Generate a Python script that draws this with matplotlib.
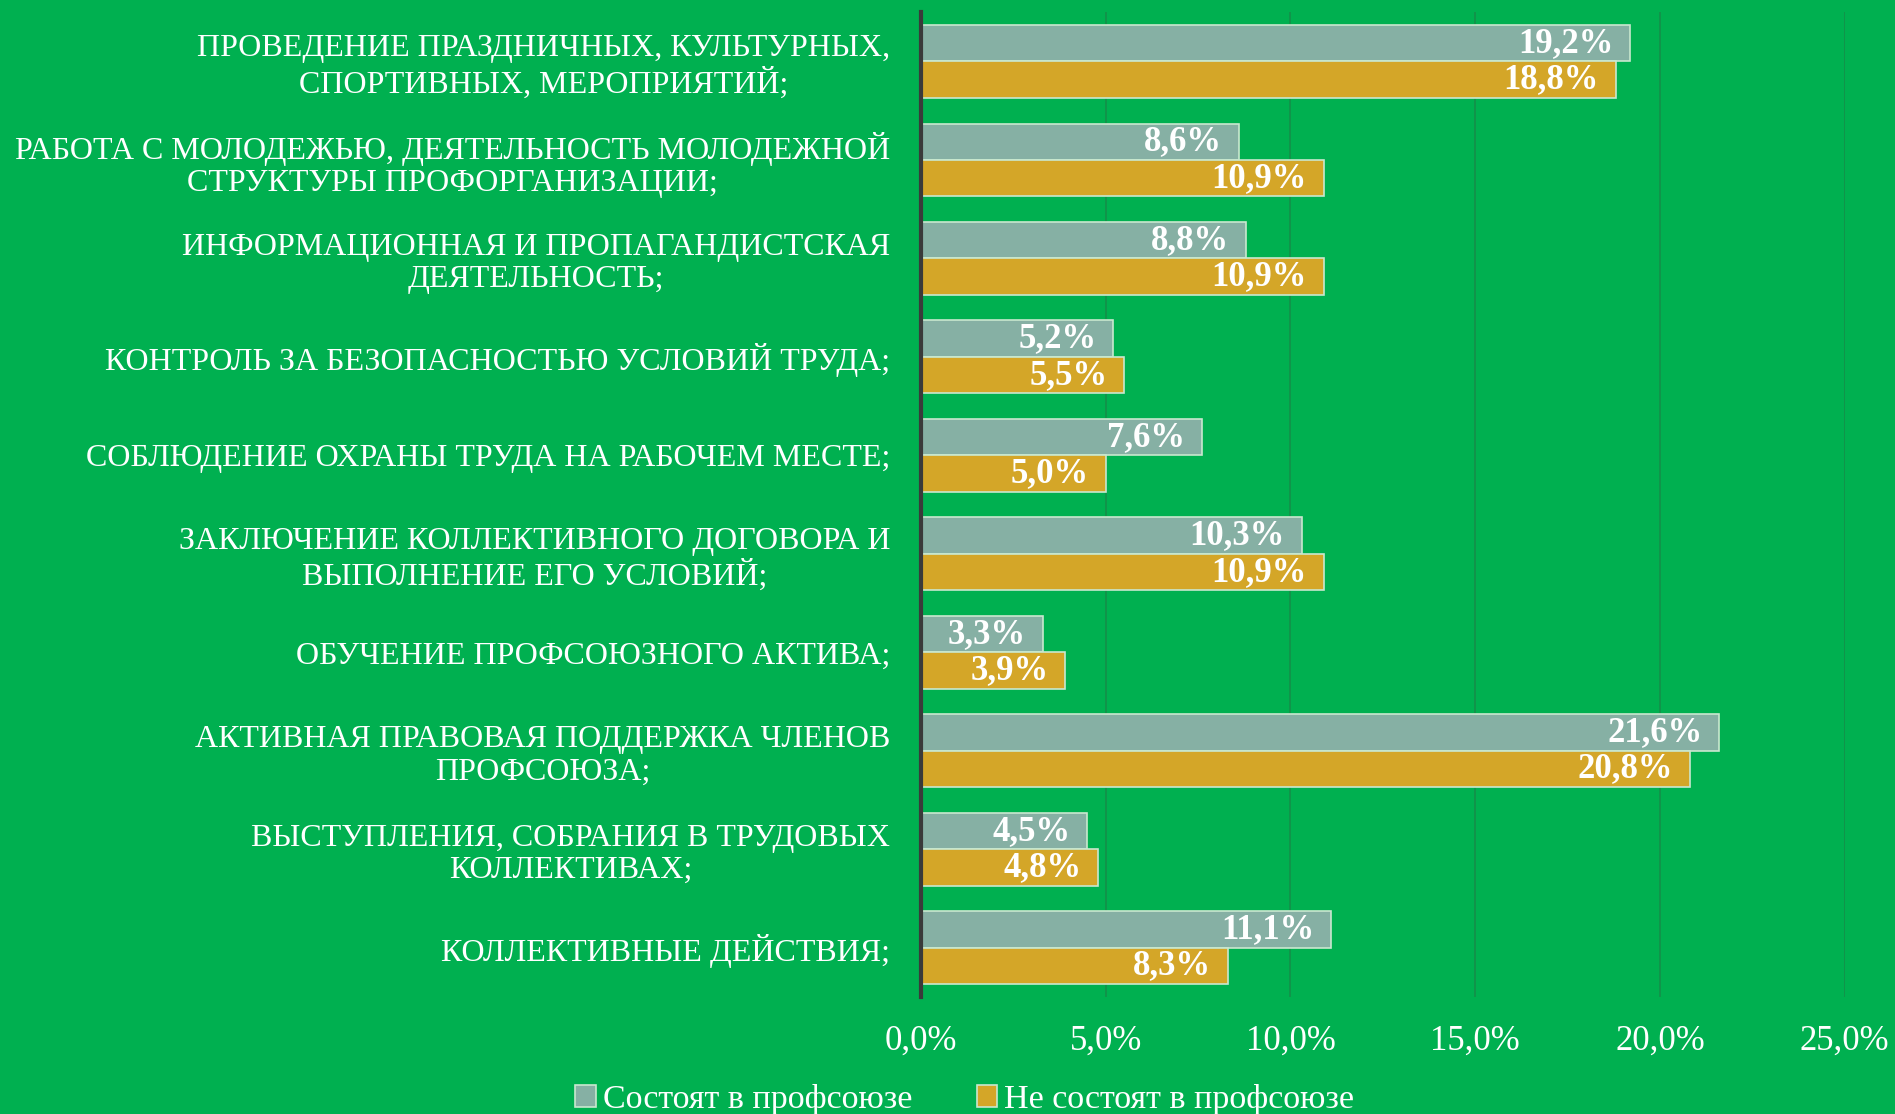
import matplotlib
matplotlib.use('Agg')
import matplotlib.pyplot as plt
import matplotlib.patches as mpatches
import numpy as np

# Colors
BG = '#00B050'
MEMBER = '#86B0A4'
NONMEMBER = '#D4A628'
EDGE = '#C9E8CF'
GRID = '#12914A'

categories = [
    'ПРОВЕДЕНИЕ ПРАЗДНИЧНЫХ, КУЛЬТУРНЫХ,\nСПОРТИВНЫХ, МЕРОПРИЯТИЙ;',
    'РАБОТА С МОЛОДЕЖЬЮ, ДЕЯТЕЛЬНОСТЬ МОЛОДЕЖНОЙ\nСТРУКТУРЫ ПРОФОРГАНИЗАЦИИ;',
    'ИНФОРМАЦИОННАЯ И ПРОПАГАНДИСТСКАЯ\nДЕЯТЕЛЬНОСТЬ;',
    'КОНТРОЛЬ ЗА БЕЗОПАСНОСТЬЮ УСЛОВИЙ ТРУДА;',
    'СОБЛЮДЕНИЕ ОХРАНЫ ТРУДА НА РАБОЧЕМ МЕСТЕ;',
    'ЗАКЛЮЧЕНИЕ КОЛЛЕКТИВНОГО ДОГОВОРА И\nВЫПОЛНЕНИЕ ЕГО УСЛОВИЙ;',
    'ОБУЧЕНИЕ ПРОФСОЮЗНОГО АКТИВА;',
    'АКТИВНАЯ ПРАВОВАЯ ПОДДЕРЖКА ЧЛЕНОВ\nПРОФСОЮЗА;',
    'ВЫСТУПЛЕНИЯ, СОБРАНИЯ В ТРУДОВЫХ\nКОЛЛЕКТИВАХ;',
    'КОЛЛЕКТИВНЫЕ ДЕЙСТВИЯ;',
]
members = [19.2, 8.6, 8.8, 5.2, 7.6, 10.3, 3.3, 21.6, 4.5, 11.1]
non_members = [18.8, 10.9, 10.9, 5.5, 5.0, 10.9, 3.9, 20.8, 4.8, 8.3]
series_names = ['Состоят в профсоюзе', 'Не состоят в профсоюзе']
xticks = [0, 5, 10, 15, 20, 25]

SERIF = ['Liberation Serif', 'DejaVu Serif']

fig = plt.figure(figsize=(18.95, 11.14), dpi=100, facecolor=BG)
ax = fig.add_axes([0.486, 0.105, 0.4875, 0.884], facecolor=BG)

y = np.arange(len(categories))
h = 0.37
b1 = ax.barh(y - h / 2, members, height=h, color=MEMBER, edgecolor=EDGE, linewidth=1.2, zorder=3)
b2 = ax.barh(y + h / 2, non_members, height=h, color=NONMEMBER, edgecolor=EDGE, linewidth=1.2, zorder=3)

def fmt(v):
    return f'{v:.1f}%'.replace('.', ',')

for bars, vals in ((b1, members), (b2, non_members)):
    for bar, v in zip(bars, vals):
        ax.annotate(fmt(v), (bar.get_width(), bar.get_y() + bar.get_height() / 2),
                    xytext=(-12, 0), textcoords='offset points',
                    ha='right', va='center', color='white', fontsize=25, fontweight='bold',
                    family=SERIF, zorder=4)

ax.set_ylim(len(categories) - 0.5, -0.5)
ax.set_xlim(0, 25)
ax.set_xticks(xticks)
ax.set_xticklabels([f'{t:.1f}%'.replace('.', ',') for t in xticks], color='white',
                   fontsize=25, family=SERIF)
ax.set_yticks(y)
ax.set_yticklabels(categories, color='white', fontsize=23, family=SERIF,
                   multialignment='center', linespacing=1.15)
ax.tick_params(axis='x', length=0, pad=20)
ax.tick_params(axis='y', length=0, pad=22)

ax.grid(axis='x', color=GRID, linewidth=1.3, zorder=0)
for s in ['top', 'right', 'bottom']:
    ax.spines[s].set_visible(False)
ax.spines['left'].set_color('#3A3A3A')
ax.spines['left'].set_linewidth(3)
ax.spines['left'].set_zorder(5)

handles = [mpatches.Patch(facecolor=MEMBER, edgecolor=EDGE, linewidth=1.2),
           mpatches.Patch(facecolor=NONMEMBER, edgecolor=EDGE, linewidth=1.2)]
fig.legend(handles, series_names, loc='center', bbox_to_anchor=(0.509, 0.013), ncol=2,
           frameon=False, prop={'family': SERIF, 'size': 24.5}, labelcolor='white',
           handlelength=0.6, handleheight=0.6, handletextpad=0.2, columnspacing=1.9)

plt.savefig('out.png', dpi=100, facecolor=BG)
